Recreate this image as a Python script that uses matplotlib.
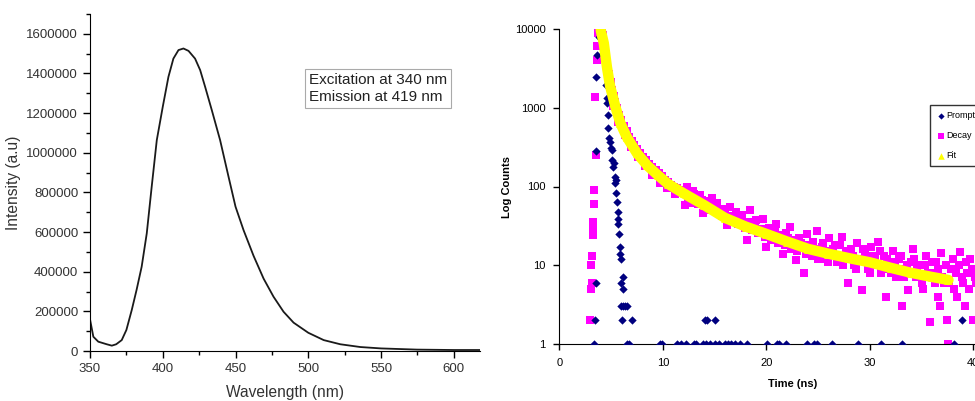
import numpy as np
import matplotlib
matplotlib.use('Agg')
import matplotlib.pyplot as plt
from matplotlib.ticker import FuncFormatter

plt.rcParams['font.family'] = ['Liberation Sans', 'DejaVu Sans']

# ---- left panel: emission spectrum ----
wl = [350, 352.3, 355.7, 361.5, 365, 368, 371.8, 375, 378.7, 382, 385.5, 389, 392.4, 395.9,
      400, 403.9, 407.3, 410.8, 414.2, 417.7, 422.2, 425.7, 429.1, 433.7, 439.4, 445.2, 450,
      455.5, 462.4, 469.3, 476.1, 483, 489.9, 500, 510.6, 522, 535.8, 550, 574.8, 600, 618]
intensity = [160000, 72000, 47000, 34000, 27000, 34000, 55000, 106000, 207000, 308000, 425000,
             593000, 829000, 1064000, 1232000, 1383000, 1475000, 1518000, 1526000, 1514000,
             1475000, 1417000, 1333000, 1215000, 1064000, 879000, 728000, 610000, 480000, 365000,
             274000, 198000, 143000, 92000, 55000, 34000, 20000, 13000, 7000, 5000, 5000]

# ---- right panel: lifetime decay ----
prompt_t = [3.4, 3.45, 3.5, 3.55, 3.55, 3.6, 3.8, 4.48, 4.58, 4.6, 4.74, 4.74, 4.83, 4.9, 5.0, 5.05,
            5.1, 5.22, 5.3, 5.38, 5.42, 5.45, 5.5, 5.55, 5.64, 5.68, 5.7, 5.8, 5.85, 5.9, 5.92,
            6.12, 6.0, 6.15, 6.0, 6.2, 6.35, 6.5, 6.1, 7.0,
            14.1, 14.3, 15.0, 38.9,
            6.5, 6.7, 9.7, 9.9, 11.4, 11.8, 12.2, 13.0, 13.2, 13.9, 14.2, 14.6, 15.0, 15.4, 16.0,
            16.3, 16.6, 17.0, 17.5, 18.1, 20.1, 21.0, 21.2, 21.9, 23.9, 24.6, 24.9, 26.3, 28.9,
            31.1, 33.1, 38.1]
prompt_c = [1, 2, 6, 286, 2440, 4700, 8000, 1950, 1320, 1140, 810, 550, 410, 370, 305, 290,
            217, 178, 200, 133, 110, 120, 82, 64, 48, 39, 33, 25, 17, 14, 12,
            7, 6, 5, 3, 3, 3, 3, 2, 2,
            2, 2, 2, 2,
            1, 1, 1, 1, 1, 1, 1, 1, 1, 1, 1, 1, 1, 1, 1,
            1, 1, 1, 1, 1, 1, 1, 1, 1, 1, 1, 1, 1, 1,
            1, 1, 1]

decay_t = [3.0, 3.1, 3.15, 3.1, 3.2, 3.3, 3.3, 3.3, 3.4, 3.4, 3.5, 3.45, 3.6, 3.6, 3.7, 3.8, 3.95, 4.1,
           4.2, 4.35, 4.5, 4.65, 4.8, 4.95, 5.1, 5.25, 5.4, 5.6, 5.8, 6.0, 6.25, 6.5, 6.75, 7.0,
           7.25, 7.5, 7.8, 8.1, 8.4, 8.7, 9.0, 9.3, 9.6, 9.9, 10.2, 10.5, 10.8, 11.1, 11.4, 11.7, 12.0,
           5.2, 5.7, 6.3, 6.9, 7.6, 8.3, 9.0, 9.7, 10.4, 11.2,
           12.3, 12.1, 12.6, 12.9, 13.2, 13.6, 13.9, 14.2, 14.5, 14.8, 15.2, 15.5, 15.8, 16.2, 16.5,
           16.8, 17.1, 17.4, 17.7, 18.1, 18.4, 18.7, 19.0, 19.4, 19.7, 20.0, 20.3, 20.6, 20.9, 21.3,
           21.6, 21.9, 22.3, 22.6, 22.9, 23.2, 23.6, 23.9, 24.2, 24.5, 24.9, 25.2, 25.5, 25.8, 26.1,
           26.4, 26.8, 27.1, 27.3, 27.6, 27.9, 28.2, 28.5, 28.8, 29.2, 29.5, 29.8, 30.1, 30.5, 30.8,
           31.1, 31.4, 31.6, 31.9, 32.2, 32.5, 32.8, 33.1, 33.4, 33.7, 34.0, 34.2, 34.5, 34.8, 35.1,
           35.4, 35.8, 36.1, 36.4, 36.6, 36.9, 36.8, 37.2, 37.5, 37.6, 37.8, 38.1, 38.4, 38.7, 38.9,
           39.2, 39.3, 39.6, 39.9, 40.0, 40.3, 40.6, 41.0,
           12.4, 12.8, 13.0, 13.4, 13.8, 14.0, 14.4, 14.7, 15.0, 15.4, 15.7, 16.0, 16.4, 16.7, 17.0,
           17.3, 17.6, 17.9, 18.2, 18.6, 18.9, 19.2, 19.5, 19.9, 20.2, 20.5, 20.8, 21.1, 21.4, 21.8,
           22.1, 22.4, 22.8, 23.0, 23.4, 23.8, 24.1, 24.4, 24.7, 25.0, 25.4, 25.7, 26.0, 26.3, 26.6,
           27.0, 27.4, 27.7, 28.0, 28.4, 28.7, 29.0, 29.3, 29.7, 30.0, 30.3, 30.6, 31.0, 31.3, 31.7,
           32.0, 32.4, 32.7, 33.0, 33.3, 33.6, 34.0, 34.3, 34.6, 35.0, 35.3, 35.6, 36.0, 36.3, 36.6,
           37.0, 37.4, 37.7, 38.0, 38.3, 38.6, 39.0, 39.4, 39.7, 40.2, 40.5, 41.3]
decay_c = [2, 5, 6, 10, 13, 24, 30, 35, 60, 90, 250, 1350, 4000, 6000, 9000, 10000, 10000, 10000,
           8500, 6500, 4800, 3500, 2700, 2100, 1700, 1400, 1200, 980, 800, 690, 580, 500, 430, 380,
           335, 300, 270, 240, 215, 195, 175, 160, 150, 135, 122, 115, 105, 98, 95, 90, 86,
           1050, 650, 450, 320, 240, 180, 140, 112, 95, 80,
           99, 58, 75, 88, 70, 78, 46, 66, 55, 72, 61, 45, 52, 32, 55,
           42, 48, 36, 44, 21, 50, 33, 38, 27, 39, 17, 30, 24, 33, 22,
           14, 26, 31, 19, 11.7, 22, 7.9, 25, 17, 20, 27, 14, 19, 12, 22,
           16, 11, 18, 23, 13, 5.9, 16, 10, 19, 4.9, 14, 9, 17, 12, 20,
           8, 13, 4, 10, 15, 7, 12, 3, 9, 4.9, 11, 16, 7, 10, 5,
           13, 1.9, 8, 11, 4, 14.2, 3, 6, 2, 1, 9, 5, 4, 14.9, 7,
           3, 11, 5, 9, 2, 6, 10, 4,
           70, 62, 80, 60, 68, 52, 60, 50, 56, 48, 42, 46, 40, 36, 39,
           33, 37, 30, 35, 28, 31, 26, 29, 23, 26, 21, 27, 19, 24, 18,
           22, 16, 21, 15, 19, 14, 18, 13, 16, 12, 17, 15, 11, 14, 18,
           13, 10, 15, 12, 13, 9, 12, 16, 11, 8, 13, 10, 15, 9, 12,
           8, 11, 9, 13, 7, 10, 8, 12, 9, 6, 10, 8, 11, 6, 9,
           7, 10, 6, 12, 8, 10, 6, 8, 12, 7, 9, 6]

fit_t = [4.0, 4.3, 4.6, 4.9, 5.4, 5.9, 6.5, 7.5, 8.5, 9.5, 10.5, 12, 14, 16, 18, 20, 22, 24,
         26, 28, 30, 32, 34, 36, 37.6]
fit_c = [9700, 6600, 3300, 1900, 1050, 640, 430, 265, 185, 140, 108, 82, 58, 40, 31, 25, 20,
         16.2, 14, 12.3, 10.9, 9.3, 8.0, 7.1, 6.5]

fig = plt.figure(figsize=(9.75, 4.01), dpi=100)

# left
ax1 = fig.add_axes([90/975, 50/401, 390/975, 337/401])
ax1.plot(wl, intensity, color='#1a1a1a', lw=1.3)
ax1.set_xlim(350, 618)
ax1.set_ylim(0, 1700000)
ax1.set_xticks([350, 400, 450, 500, 550, 600])
ax1.set_xticks([375, 425, 475, 525, 575], minor=True)
ax1.set_yticks(np.arange(0, 1600001, 200000))
ax1.set_yticks(np.arange(100000, 1700001, 200000), minor=True)
ax1.yaxis.set_major_formatter(FuncFormatter(lambda v, p: '%d' % v))
ax1.spines['top'].set_visible(False)
ax1.spines['right'].set_visible(False)
ax1.tick_params(which='major', length=5, width=1, labelsize=9.5, labelcolor='#333333')
ax1.tick_params(which='minor', length=3, width=1)
ax1.set_xlabel('Wavelength (nm)', fontsize=11.2, labelpad=7, color='#333333')
ax1.set_ylabel('Intensity (a.u)', fontsize=11.2, labelpad=4, color='#333333')
fig.text(309/975, 1 - 73/401, 'Excitation at 340 nm\nEmission at 419 nm', fontsize=11,
         ha='left', va='top', linespacing=1.3, color='#222222',
         bbox=dict(boxstyle='square,pad=0.25', fc='white', ec='#aaaaaa', lw=0.8))

# right
ax2 = fig.add_axes([559.3/975, 57/401, 465.75/975, 315/401])
ax2.scatter(decay_t, decay_c, marker='s', s=34, color='#ff00ff', linewidths=0, zorder=2)
ax2.scatter(prompt_t, prompt_c, marker='D', s=18, color='#00007f', linewidths=0, zorder=3)
ax2.plot(fit_t, fit_c, color='#ffff00', lw=7.5, solid_capstyle='round', zorder=4)
ax2.scatter(fit_t, fit_c, marker='^', s=40, color='#ffff00', linewidths=0, zorder=4)
ax2.set_yscale('log')
ax2.set_ylim(1, 10000)
ax2.set_xlim(0, 45)
ax2.set_xticks([0, 10, 20, 30, 40])
ax2.set_yticks([1, 10, 100, 1000, 10000])
ax2.set_yticklabels(['1', '10', '100', '1000', '10000'])
ax2.minorticks_off()
ax2.spines['top'].set_visible(False)
ax2.spines['right'].set_visible(False)
ax2.tick_params(length=4, width=1, labelsize=8, pad=6)
ax2.set_xlabel('Time (ns)', fontsize=8, fontweight='bold', labelpad=8)
ax2.set_ylabel('Log Counts', fontsize=8, fontweight='bold', labelpad=2)

h1 = ax2.scatter([], [], marker='D', s=10, color='#00007f', linewidths=0)
h2 = ax2.scatter([], [], marker='s', s=22, color='#ff00ff', linewidths=0)
h3 = ax2.scatter([], [], marker='^', s=22, color='#ffff00', linewidths=0)
leg = ax2.legend([h1, h2, h3], ['Prompt', 'Decay', 'Fit'], loc='upper left',
                 bbox_to_anchor=(930/975, 1 - 105/401), bbox_transform=fig.transFigure,
                 fontsize=6.5, frameon=True, fancybox=False, labelspacing=1.2,
                 handletextpad=0.1, handlelength=1.0, borderpad=0.7, borderaxespad=0)
leg.get_frame().set_edgecolor('black')
leg.get_frame().set_linewidth(1)

fig.savefig('out.png', dpi=100)
